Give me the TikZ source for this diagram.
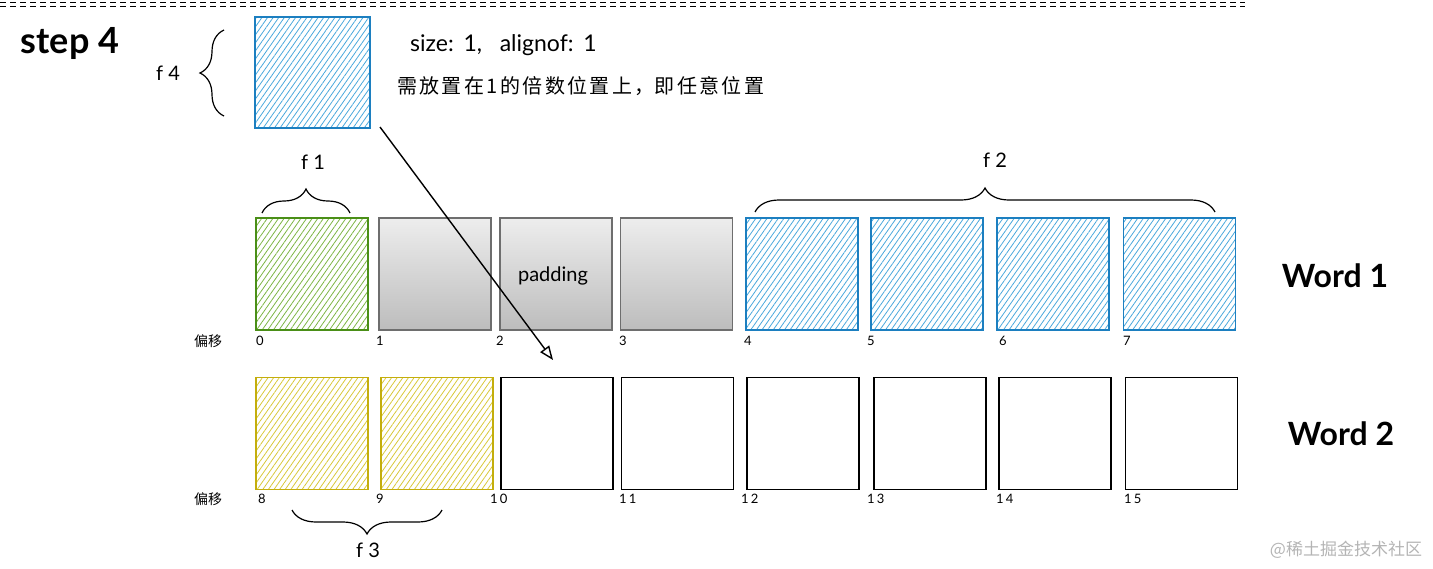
\documentclass[tikz,border=0pt]{standalone}
\usepackage{fontspec}
\setmainfont{Lato}
\newfontfamily\cjk{Noto Sans CJK SC}
\usetikzlibrary{patterns.meta,decorations.pathreplacing,arrows.meta}
\definecolor{bluebd}{HTML}{1C7FC0}
\definecolor{bluehx}{HTML}{4AA8DC}
\definecolor{greenbd}{HTML}{4A8F17}
\definecolor{greenhx}{HTML}{7DB544}
\definecolor{yelbd}{HTML}{C4AE0C}
\definecolor{yelhx}{HTML}{D8C83A}
\definecolor{graybd}{HTML}{6E6E6E}
\definecolor{wmgray}{HTML}{B4B4B4}
\newcommand\ck{\kern2.4pt }
\tikzset{
  cell/.style={draw, minimum width=112pt, minimum height=112pt, inner sep=0pt, line width=1.6pt},
  hatch/.style={pattern={Lines[angle=55,distance=4.6pt,line width=0.8pt]}},
  bluecell/.style={cell, draw=bluebd, hatch, pattern color=bluehx},
  greencell/.style={cell, draw=greenbd, hatch, pattern color=greenhx},
  yelcell/.style={cell, draw=yelbd, hatch, pattern color=yelhx},
  graycell/.style={cell, draw=graybd, top color=black!7, bottom color=black!26},
  whitecell/.style={cell, draw=black},
  offs/.style={anchor=west, inner sep=0pt, font=\fontsize{13}{13}\selectfont},
  pianyi/.style={inner sep=0pt, font=\cjk\fontsize{14}{14}\selectfont},
  flabel/.style={inner sep=0pt, font=\fontsize{20}{20}\selectfont},
  bracedeco/.style={decorate, decoration={brace, amplitude=24pt}, line width=1.2pt},
  wordlbl/.style={inner sep=0pt, font=\bfseries\fontsize{32}{32}\selectfont}
}
\begin{document}
\begin{tikzpicture}[x=1pt,y=-1pt]
\useasboundingbox (0,0) rectangle (1433,568);
% top dashed lines
\draw[line width=1pt, dash pattern=on 6pt off 4pt] (0,2) -- (1245,2);
\draw[line width=1pt, dash pattern=on 6pt off 4pt] (0,6) -- (1245,6);
% step 4
\node[inner sep=0pt, font=\bfseries\fontsize{36}{36}\selectfont] (step) at (70,43) {step 4};
% f4
\node[bluecell, minimum width=115pt, minimum height=111pt] (f4) at (312.5,72.5) {};
\coordinate (b4a) at (224,116);
\coordinate (b4b) at (224,30);
\draw[bracedeco] (b4a) -- (b4b);
\node[flabel] (lf4) at (168,73) {f 4};
\node[inner sep=0pt, anchor=west, font=\fontsize{23}{23}\selectfont] (sz) at (410,45) {size:\kern2pt{} 1,\ \ \ alignof:\kern2pt{} 1};
\node[inner sep=0pt, anchor=west, font=\cjk\fontsize{20}{20}\selectfont] (cn) at (397,86) {需\ck 放\ck 置\ck 在\ck 1\ck 的\ck 倍\ck 数\ck 位\ck 置\ck 上\ck ，即\ck 任\ck 意\ck 位\ck 置};
% row 1
\node[greencell] (c0) at (312,274) {};
\node[graycell] (c1) at (435,274) {};
\node[graycell] (c2) at (556,274) {};
\node[graycell] (c3) at (676.5,274) {};
\node[bluecell] (c4) at (802,274) {};
\node[bluecell] (c5) at (927,274) {};
\node[bluecell] (c6) at (1053,274) {};
\node[bluecell] (c7) at (1179.5,274) {};
\node[inner sep=0pt, font=\fontsize{20}{20}\selectfont] (pad) at (553,276) {padding};
% row 1 offsets
\node[pianyi] (py1) at (208,341) {偏移};
\node[offs] (o0) at (256,341) {0};
\node[offs] (o1) at (376,341) {1};
\node[offs] (o2) at (496,341) {2};
\node[offs] (o3) at (619,341) {3};
\node[offs] (o4) at (744,341) {4};
\node[offs] (o5) at (867,341) {5};
\node[offs] (o6) at (999,341) {6};
\node[offs] (o7) at (1123,341) {7};
% braces row 1
\coordinate (b1a) at (262,213);
\coordinate (b1b) at (350,213);
\draw[bracedeco] (b1a) -- (b1b);
\node[flabel] (lf1) at (313,162) {f 1};
\coordinate (b2a) at (755,212);
\coordinate (b2b) at (1215,212);
\draw[bracedeco] (b2a) -- (b2b);
\node[flabel] (lf2) at (995,160) {f 2};
% row 2
\node[yelcell] (d0) at (312,433.5) {};
\node[yelcell] (d1) at (437,433.5) {};
\node[whitecell] (d2) at (557,433.5) {};
\node[whitecell] (d3) at (677.5,433.5) {};
\node[whitecell] (d4) at (803,433.5) {};
\node[whitecell] (d5) at (930,433.5) {};
\node[whitecell] (d6) at (1055,433.5) {};
\node[whitecell] (d7) at (1181.5,433.5) {};
\node[pianyi] (py2) at (208,499) {偏移};
\node[offs] (o8) at (258,499) {8};
\node[offs] (o9) at (376,499) {9};
\node[offs] (o10) at (490,499) {1\,0};
\node[offs] (o11) at (619,499) {1\,1};
\node[offs] (o12) at (741,499) {1\,2};
\node[offs] (o13) at (867,499) {1\,3};
\node[offs] (o14) at (996,499) {1\,4};
\node[offs] (o15) at (1124,499) {1\,5};
\coordinate (b3a) at (442,510);
\coordinate (b3b) at (292,510);
\draw[bracedeco] (b3a) -- (b3b);
\node[flabel] (lf3) at (368,550) {f 3};
% words
\node[wordlbl] (w1) at (1335,276) {Word 1};
\node[wordlbl] (w2) at (1341,434) {Word 2};
% arrow
\coordinate (arrS) at (380,127);
\coordinate (arrE) at (553,360);
\draw[line width=1.4pt, -{Triangle[open, length=14pt, width=11pt]}] (arrS) -- (arrE);
% watermark
\node[inner sep=0pt, text=wmgray, font=\cjk\fontsize{17}{17}\selectfont] (wm) at (1346,550) {@稀土掘金技术社区};
\end{tikzpicture}
\end{document}
